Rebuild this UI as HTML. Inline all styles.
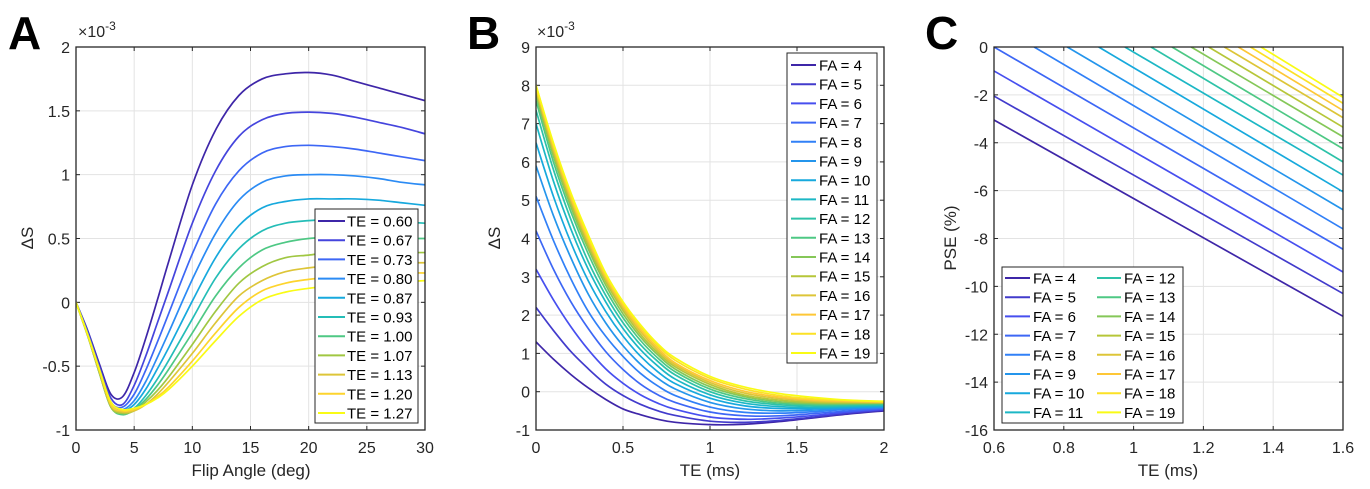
<!DOCTYPE html>
<html><head><meta charset="utf-8">
<style>
html,body{margin:0;padding:0;background:#fff;}
svg{display:block;font-family:"Liberation Sans",Arial,sans-serif;}
</style></head>
<body>
<svg id="fig" width="1370" height="489" viewBox="0 0 1370 489" xmlns="http://www.w3.org/2000/svg">
<defs>
<clipPath id="clipA"><rect x="76" y="47" width="349" height="383"/></clipPath>
<clipPath id="clipB"><rect x="536" y="47" width="348" height="383"/></clipPath>
<clipPath id="clipC"><rect x="994" y="47" width="349" height="383"/></clipPath>
</defs>
<text x="8" y="49" font-size="46" font-weight="bold">A</text>
<text x="467" y="49" font-size="46" font-weight="bold">B</text>
<text x="925" y="49" font-size="46" font-weight="bold">C</text>
</svg>
<script>
// ---------- Panel A data ----------
const aFlip = [0,1,2,3,4,5,6,7,8,10,12,14,16,18,20,22,24,26,28,30];
const aLabels = ["TE = 0.60","TE = 0.67","TE = 0.73","TE = 0.80","TE = 0.87","TE = 0.93","TE = 1.00","TE = 1.07","TE = 1.13","TE = 1.20","TE = 1.27"];
const aS1 = [0,-0.22,-0.48,-0.72,-0.74,-0.55,-0.28,0.02,0.33,0.92,1.35,1.62,1.75,1.79,1.80,1.78,1.73,1.68,1.63,1.58];
const aS2 = [0,-0.23,-0.5,-0.75,-0.8,-0.65,-0.42,-0.16,0.1,0.62,1.03,1.3,1.43,1.48,1.49,1.48,1.45,1.41,1.37,1.32];
const aS3 = [0,-0.24,-0.52,-0.78,-0.82,-0.72,-0.53,-0.31,-0.08,0.38,0.77,1.03,1.17,1.22,1.23,1.22,1.2,1.17,1.14,1.11];
const aS4 = [0,-0.25,-0.53,-0.8,-0.84,-0.77,-0.62,-0.43,-0.23,0.18,0.54,0.8,0.94,0.99,1.0,1.0,0.99,0.97,0.94,0.92];
const aS5 = [0,-0.25,-0.54,-0.81,-0.85,-0.8,-0.68,-0.52,-0.35,0.01,0.35,0.6,0.74,0.79,0.81,0.81,0.81,0.8,0.78,0.76];
const aS6 = [0,-0.26,-0.55,-0.82,-0.87,-0.83,-0.73,-0.6,-0.45,-0.13,0.19,0.42,0.56,0.62,0.64,0.65,0.65,0.64,0.63,0.62];
const aS7 = [0,-0.26,-0.55,-0.82,-0.88,-0.84,-0.76,-0.65,-0.52,-0.24,0.05,0.27,0.41,0.47,0.5,0.51,0.51,0.51,0.5,0.5];
const aS8 = [0,-0.26,-0.55,-0.82,-0.87,-0.85,-0.78,-0.69,-0.58,-0.33,-0.07,0.15,0.28,0.35,0.37,0.39,0.39,0.39,0.39,0.39];
const aS9 = [0,-0.26,-0.54,-0.81,-0.86,-0.85,-0.8,-0.72,-0.62,-0.4,-0.16,0.05,0.17,0.24,0.27,0.29,0.3,0.3,0.31,0.31];
const aS10 = [0,-0.25,-0.53,-0.8,-0.85,-0.84,-0.8,-0.74,-0.66,-0.46,-0.24,-0.04,0.09,0.15,0.18,0.2,0.21,0.22,0.23,0.23];
const aS11 = [0,-0.25,-0.52,-0.78,-0.84,-0.83,-0.8,-0.75,-0.68,-0.5,-0.3,-0.11,0.02,0.08,0.11,0.13,0.14,0.15,0.16,0.17];
const aSeries = [aS1,aS2,aS3,aS4,aS5,aS6,aS7,aS8,aS9,aS10,aS11];
const aXTicks = [0,5,10,15,20,25,30];
const aYTicks = [-1,-0.5,0,0.5,1,1.5,2];

// ---------- Panel B data ----------
const bTE = [0,0.1,0.2,0.3,0.4,0.5,0.6,0.7,0.8,1.0,1.2,1.4,1.6,1.8,2.0];
const faLabels = ["FA = 4","FA = 5","FA = 6","FA = 7","FA = 8","FA = 9","FA = 10","FA = 11","FA = 12","FA = 13","FA = 14","FA = 15","FA = 16","FA = 17","FA = 18","FA = 19"];
const bFA4 = [1.3,0.85,0.45,0.1,-0.2,-0.45,-0.6,-0.72,-0.8,-0.86,-0.85,-0.78,-0.68,-0.58,-0.5];
const bFA5 = [2.2,1.6,1.05,0.6,0.2,-0.1,-0.33,-0.5,-0.62,-0.77,-0.8,-0.75,-0.66,-0.56,-0.48];
const bFA6 = [3.2,2.4,1.7,1.1,0.6,0.22,-0.08,-0.3,-0.46,-0.66,-0.72,-0.69,-0.62,-0.53,-0.46];
const bFA7 = [4.2,3.2,2.35,1.65,1.05,0.58,0.2,-0.08,-0.28,-0.53,-0.63,-0.63,-0.57,-0.5,-0.44];
const bFA8 = [5.1,3.95,2.95,2.1,1.45,0.92,0.48,0.15,-0.1,-0.4,-0.54,-0.56,-0.52,-0.46,-0.42];
const bFA9 = [5.9,4.6,3.5,2.55,1.8,1.2,0.72,0.35,0.07,-0.28,-0.45,-0.5,-0.48,-0.43,-0.4];
const bFA10 = [6.5,5.1,3.9,2.9,2.1,1.45,0.93,0.52,0.21,-0.17,-0.37,-0.44,-0.44,-0.41,-0.38];
const bFA11 = [7.0,5.5,4.25,3.2,2.35,1.65,1.1,0.67,0.33,-0.08,-0.3,-0.39,-0.41,-0.38,-0.36];
const bFA12 = [7.35,5.8,4.5,3.4,2.52,1.8,1.23,0.79,0.44,0.0,-0.24,-0.34,-0.37,-0.36,-0.34];
const bFA13 = [7.6,6.0,4.7,3.6,2.67,1.93,1.34,0.88,0.52,0.07,-0.18,-0.3,-0.34,-0.33,-0.32];
const bFA14 = [7.75,6.15,4.83,3.73,2.79,2.03,1.43,0.96,0.59,0.13,-0.13,-0.26,-0.31,-0.31,-0.3];
const bFA15 = [7.85,6.25,4.93,3.82,2.88,2.12,1.5,1.02,0.65,0.19,-0.09,-0.22,-0.28,-0.29,-0.29];
const bFA16 = [7.9,6.33,5.02,3.9,2.95,2.19,1.57,1.08,0.7,0.24,-0.04,-0.18,-0.25,-0.27,-0.28];
const bFA17 = [7.95,6.4,5.08,3.97,3.01,2.25,1.63,1.14,0.75,0.29,0.01,-0.14,-0.22,-0.25,-0.27];
const bFA18 = [8.0,6.45,5.14,4.03,3.06,2.3,1.69,1.2,0.82,0.35,0.07,-0.1,-0.19,-0.23,-0.26];
const bFA19 = [8.0,6.5,5.2,4.1,3.1,2.35,1.75,1.25,0.88,0.4,0.12,-0.05,-0.15,-0.22,-0.25];
const bSeries = [bFA4,bFA5,bFA6,bFA7,bFA8,bFA9,bFA10,bFA11,bFA12,bFA13,bFA14,bFA15,bFA16,bFA17,bFA18,bFA19];
const bXTicks = [0,0.5,1,1.5,2];
const bXTickLabels = ["0","0.5","1","1.5","2"];
const bYTicks = [-1,0,1,2,3,4,5,6,7,8,9];

// ---------- Panel C data ----------
const cTEStart = [0.6,0.6,0.6,0.6,0.715,0.81,0.9,0.975,1.05,1.11,1.165,1.215,1.26,1.3,1.335,1.365];
const cPSEStart = [-3.05,-2.05,-1.0,0,0,0,0,0,0,0,0,0,0,0,0,0];
const cTEEnd = [1.6,1.6,1.6,1.6,1.6,1.6,1.6,1.6,1.6,1.6,1.6,1.6,1.6,1.6,1.6,1.6];
const cPSEEnd = [-11.25,-10.3,-9.4,-8.45,-7.6,-6.8,-6.05,-5.35,-4.8,-4.25,-3.75,-3.35,-2.95,-2.65,-2.35,-2.1];
const cXTicks = [0.6,0.8,1,1.2,1.4,1.6];
const cXTickLabels = ["0.6","0.8","1","1.2","1.4","1.6"];
const cYTicks = [-16,-14,-12,-10,-8,-6,-4,-2,0];

// ---------- rendering ----------
const NS = "http://www.w3.org/2000/svg";
const svg = document.getElementById("fig");
const PAR = [[0.2422,0.1504,0.6603],[0.2810,0.3228,0.9579],[0.1786,0.5289,0.9682],[0.0689,0.6948,0.8394],[0.2161,0.7843,0.5923],[0.6720,0.7793,0.2227],[0.9970,0.7659,0.2199],[0.9769,0.9839,0.0805]];
function parula(t){
  const s=t*(PAR.length-1), i=Math.min(Math.floor(s),PAR.length-2), f=s-i;
  const c=PAR[i].map((v,k)=>Math.round(255*(v+(PAR[i+1][k]-v)*f)));
  return `rgb(${c[0]},${c[1]},${c[2]})`;
}
function mk(tag, attrs, parent){
  const e=document.createElementNS(NS,tag);
  for(const k in attrs) e.setAttribute(k,attrs[k]);
  (parent||svg).appendChild(e); return e;
}
function smoothPath(pts){
  let d=`M${pts[0][0].toFixed(2)},${pts[0][1].toFixed(2)}`;
  for(let i=0;i<pts.length-1;i++){
    const p0=pts[Math.max(i-1,0)],p1=pts[i],p2=pts[i+1],p3=pts[Math.min(i+2,pts.length-1)];
    const c1=[p1[0]+(p2[0]-p0[0])/6,p1[1]+(p2[1]-p0[1])/6];
    const c2=[p2[0]-(p3[0]-p1[0])/6,p2[1]-(p3[1]-p1[1])/6];
    d+=` C${c1[0].toFixed(2)},${c1[1].toFixed(2)} ${c2[0].toFixed(2)},${c2[1].toFixed(2)} ${p2[0].toFixed(2)},${p2[1].toFixed(2)}`;
  }
  return d;
}
function makeAxes(L,R,T,B,xmin,xmax,ymin,ymax){
  return {L,R,T,B,
    x:v=>L+(v-xmin)/(xmax-xmin)*(R-L),
    y:v=>B-(v-ymin)/(ymax-ymin)*(B-T)};
}
function frame(ax,xt,xtl,yt,ytl,key){
  const g=mk("g",{});
  
  
  xt.forEach((v,i)=>{
    const X=ax.x(v);
    const gl=mk("line",{x1:X,x2:X,y1:ax.T,y2:ax.B,stroke:"#e3e3e3","stroke-width":1},g);
    
    
    mk("line",{x1:X,x2:X,y1:ax.B,y2:ax.B-4,stroke:"#262626","stroke-width":1},g);
    mk("line",{x1:X,x2:X,y1:ax.T,y2:ax.T+4,stroke:"#262626","stroke-width":1},g);
    const t=mk("text",{x:X,y:ax.B+23,"font-size":16,"text-anchor":"middle",fill:"#262626"},g);
    t.textContent=xtl[i];
    
    
  });
  yt.forEach((v,i)=>{
    const Y=ax.y(v);
    const gl=mk("line",{x1:ax.L,x2:ax.R,y1:Y,y2:Y,stroke:"#e3e3e3","stroke-width":1},g);
    
    
    mk("line",{x1:ax.L,x2:ax.L+4,y1:Y,y2:Y,stroke:"#262626","stroke-width":1},g);
    mk("line",{x1:ax.R,x2:ax.R-4,y1:Y,y2:Y,stroke:"#262626","stroke-width":1},g);
    const t=mk("text",{x:ax.L-6,y:Y+6,"font-size":16,"text-anchor":"end",fill:"#262626"},g);
    t.textContent=ytl[i];
    
    
  });
}
function box(ax,key){
  const r=mk("rect",{x:ax.L,y:ax.T,width:ax.R-ax.L,height:ax.B-ax.T,fill:"none",stroke:"#262626","stroke-width":1.3});
  
  
}
function label(x,y,txt,rot,name){
  const t=mk("text",{x,y,"font-size":17,"text-anchor":"middle",fill:"#262626"});
  if(rot) t.setAttribute("transform",`rotate(-90 ${x} ${y})`);
  t.textContent=txt;
  
  
}
function exponent(x,y,name){
  const t=mk("text",{x,y,"font-size":16,fill:"#262626"});
  t.innerHTML='×10<tspan dy="-7" font-size="12">-3</tspan>';
  
  
}
function legendEntry(g,x1,x2,tx,y,color,txt){
  const e=mk("g",{},g);
  
  
  mk("line",{x1,x2,y1:y,y2:y,stroke:color,"stroke-width":2},e);
  const t=mk("text",{x:tx,y:y+5.5,"font-size":15,fill:"#000"},e);
  t.textContent=txt;
}

// Panel A
const axA=makeAxes(76,425,47,430,0,30,-1,2);
frame(axA,aXTicks,aXTicks.map(String),aYTicks,aYTicks.map(String),"panel-a");
const gA=mk("g",{"clip-path":"url(#clipA)"});
aSeries.forEach((s,i)=>{
  const p=mk("path",{d:smoothPath(aFlip.map((x,j)=>[axA.x(x),axA.y(s[j])])),fill:"none",stroke:parula(i/(aSeries.length-1)),"stroke-width":1.7},gA);
  
  
});
box(axA,"panel-a");
exponent(78,37,"panel-a-exponent");
label(251,476,"Flip Angle (deg)",false,"panel-a-x-axis-title");
label(33,238,"ΔS",true,"panel-a-y-axis-title");
const lgA=mk("g",{});


mk("rect",{x:315,y:209,width:103,height:214,fill:"#fff",stroke:"#262626","stroke-width":1},lgA);
aLabels.forEach((t,i)=>legendEntry(lgA,318,345,347,221+i*19.2,parula(i/(aLabels.length-1)),t));

// Panel B
const axB=makeAxes(536,884,47,430,0,2,-1,9);
frame(axB,bXTicks,bXTickLabels,bYTicks,bYTicks.map(String),"panel-b");
const gB=mk("g",{"clip-path":"url(#clipB)"});
bSeries.forEach((s,i)=>{
  const p=mk("path",{d:smoothPath(bTE.map((x,j)=>[axB.x(x),axB.y(s[j])])),fill:"none",stroke:parula(i/(bSeries.length-1)),"stroke-width":1.7},gB);
  
  
});
box(axB,"panel-b");
exponent(537,37,"panel-b-exponent");
label(710,476,"TE (ms)",false,"panel-b-x-axis-title");
label(500,238,"ΔS",true,"panel-b-y-axis-title");
const lgB=mk("g",{});


mk("rect",{x:787,y:53,width:90,height:310,fill:"#fff",stroke:"#262626","stroke-width":1},lgB);
faLabels.forEach((t,i)=>legendEntry(lgB,791,816,819,65+i*19.2,parula(i/(faLabels.length-1)),t));

// Panel C
const axC=makeAxes(994,1343,47,430,0.6,1.6,-16,0);
frame(axC,cXTicks,cXTickLabels,cYTicks,cYTicks.map(String),"panel-c");
const gC=mk("g",{"clip-path":"url(#clipC)"});
cTEStart.forEach((x0,i)=>{
  const p=mk("line",{x1:axC.x(x0),y1:axC.y(cPSEStart[i]),x2:axC.x(cTEEnd[i]),y2:axC.y(cPSEEnd[i]),stroke:parula(i/(cTEStart.length-1)),"stroke-width":1.7},gC);
  
  
});
box(axC,"panel-c");
label(1168,476,"TE (ms)",false,"panel-c-x-axis-title");
label(956,238,"PSE (%)",true,"panel-c-y-axis-title");
const lgC=mk("g",{});


mk("rect",{x:1002,y:267,width:181,height:156,fill:"#fff",stroke:"#262626","stroke-width":1},lgC);
faLabels.forEach((t,i)=>{
  const col=i<8?0:1, row=i%8;
  legendEntry(lgC,col?1097:1005,col?1121:1030,col?1124:1033,278+row*19.2,parula(i/(faLabels.length-1)),t);
});
</script>
</body></html>
